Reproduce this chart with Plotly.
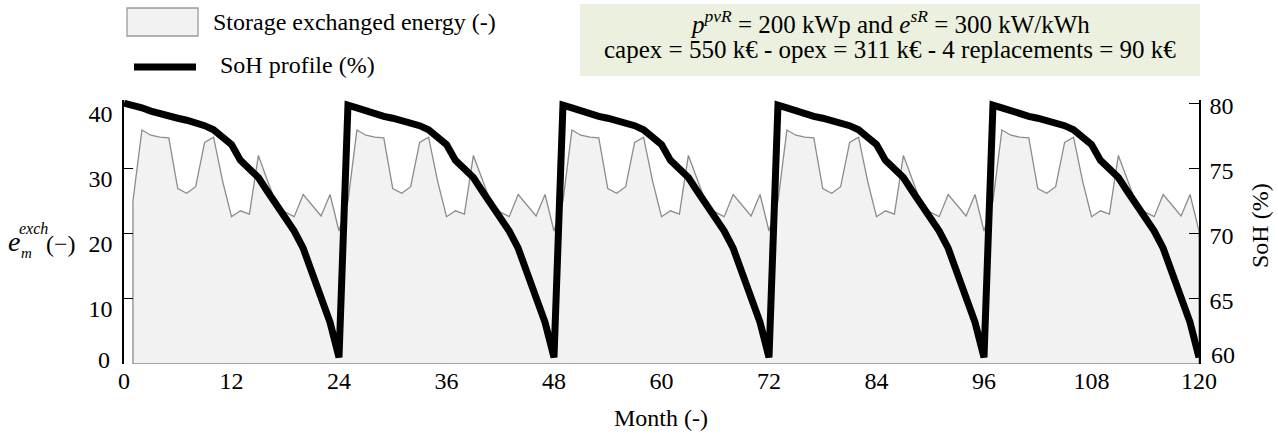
import plotly.graph_objects as go

# ---- data ----
energy_cycle = [25.0, 35.9, 35.1, 34.8, 34.7, 26.9, 26.2, 27.2, 34.0, 34.8, 28.1, 22.6,
                23.5, 23.0, 32.0, 28.2, 24.6, 23.3, 22.6, 26.0, 24.3, 22.7, 26.0, 20.4]
soh_cycle = [79.85, 79.65, 79.4, 79.18, 79.0, 78.85, 78.7, 78.53, 78.28, 77.97, 77.4, 76.83,
             75.62, 75.0, 74.3, 73.25, 72.2, 71.15, 70.2, 68.88, 67.0, 65.25, 63.2, 60.5]
soh_start = 80.0
n_cycles = 5

months_energy = list(range(1, 121))
energy = energy_cycle * n_cycles
months_soh = list(range(0, 121))
soh = [soh_start] + soh_cycle * n_cycles

x_ticks = list(range(0, 121, 12))
y_ticks = [0, 10, 20, 30, 40]
y_ticktext = ["", "10", "20", "30", "40"]
y2_ticks = [60, 65, 70, 75, 80]
y2_ticktext = ["", "65", "70", "75", "80"]

# ---- layout geometry (pixels) ----
W, H = 1278, 434
L, R, T, B = 124, 79, 100, 70
PW, PH = W - L - R, H - T - B
FONT = "Liberation Serif"


def px(x):
    return (x - L) / PW


def py(y):
    return (H - B - y) / PH


fig = go.Figure()

poly_x = [months_energy[0]] + months_energy + [months_energy[-1], months_energy[0]]
poly_y = [0] + energy + [0, 0]
fig.add_trace(go.Scatter(x=poly_x, y=poly_y, mode="lines", fill="toself",
                         fillcolor="#F2F2F2", line=dict(color="#8C8C8C", width=1.3),
                         showlegend=False, hoverinfo="skip"))
fig.add_trace(go.Scatter(x=months_soh, y=soh, yaxis="y2", mode="lines",
                         line=dict(color="black", width=7), cliponaxis=False,
                         showlegend=False))

tickfont = dict(family=FONT, size=24, color="black")
fig.update_layout(
    width=W, height=H,
    margin=dict(l=L, r=R, t=T, b=B, autoexpand=False),
    paper_bgcolor="white", plot_bgcolor="white",
    font=dict(family=FONT, size=24, color="black"),
    xaxis=dict(range=[0, 120], tickvals=x_ticks, showline=False, ticks="",
               showgrid=False, zeroline=False, tickfont=tickfont),
    yaxis=dict(range=[0, 40.5], tickvals=y_ticks, ticktext=y_ticktext, showline=True,
               linecolor="black", linewidth=1.5, ticks="inside", ticklen=9,
               tickcolor="black", showgrid=False, zeroline=False, tickfont=tickfont,
               ticklabelshift=10, ticklabelstandoff=5),
    yaxis2=dict(range=[60, 80.25], tickvals=y2_ticks, ticktext=y2_ticktext,
                overlaying="y", side="right", showline=True, linecolor="black",
                linewidth=1.5, ticks="inside", ticklen=10, tickcolor="black",
                showgrid=False, zeroline=False, tickfont=tickfont,
                ticklabelshift=2, ticklabelstandoff=4),
)

shapes = [
    # legend symbols
    dict(type="rect", xref="paper", yref="paper", x0=px(127), x1=px(198), y0=py(36), y1=py(8),
         fillcolor="#F2F2F2", line=dict(color="#999999", width=1.3)),
    dict(type="line", xref="paper", yref="paper", x0=px(134), x1=px(196), y0=py(67), y1=py(67),
         line=dict(color="black", width=7)),
    # info box
    dict(type="rect", xref="paper", yref="paper", x0=px(580), x1=px(1200), y0=py(76), y1=py(4),
         fillcolor="#EBF1DE", line=dict(width=0), layer="below"),
]


def ann(text, x, y, size=24, xanchor="center", yanchor="middle", angle=0):
    return dict(text=text, xref="paper", yref="paper", x=px(x), y=py(y), showarrow=False,
                xanchor=xanchor, yanchor=yanchor, textangle=angle,
                font=dict(family=FONT, size=size, color="black"))


annotations = [
    ann("Storage exchanged energy (-)", 211, 22, xanchor="left"),
    ann("SoH profile (%)", 218, 65, xanchor="left"),
    ann("<i>p</i><sup><i>pvR</i></sup> = 200 kWp and <i>e</i><sup><i>sR</i></sup> = 300 kW/kWh",
        890, 22, size=25),
    ann("capex = 550 k€ - opex = 311 k€ - 4 replacements = 90 k€", 890, 50, size=25),
    ann("Month (-)", 661, 418),
    ann("SoH (%)", 1260, 226, angle=-90),
    # left axis title: e_m^exch (−)
    ann("<i>e</i>", 14, 241, size=28),
    ann("<i>exch</i>", 33, 228, size=16),
    ann("<i>m</i>", 26, 253, size=15),
    ann("(−)", 61, 244, size=24),
    # bottom tick labels of both y axes, nudged up as in the reference
    dict(text=str(y_ticks[0]), xref="paper", yref="y", x=px(112), y=y_ticks[0], yshift=4,
         xanchor="right", yanchor="middle", showarrow=False, font=tickfont),
    dict(text=str(y2_ticks[0]), xref="paper", yref="y2", x=px(1209), y=y2_ticks[0], yshift=9,
         xanchor="left", yanchor="middle", showarrow=False, font=tickfont),
]

fig.update_layout(shapes=shapes, annotations=annotations)
fig.write_html("out.html", config={"displayModeBar": False},
               post_script="document.body.style.margin='0';")
